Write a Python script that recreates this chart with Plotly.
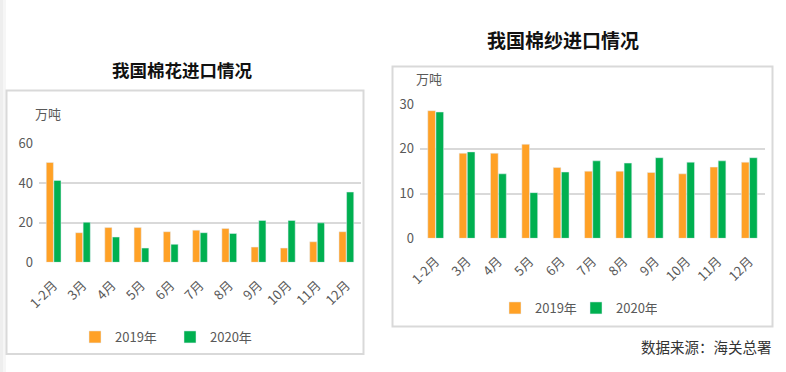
import plotly.graph_objects as go

W, H = 786, 372

months = ["1-2月", "3月", "4月", "5月", "6月", "7月", "8月", "9月", "10月", "11月", "12月"]

cotton_2019 = [50.6, 15.0, 17.6, 17.6, 15.5, 16.3, 17.1, 7.7, 7.2, 10.4, 15.5]
cotton_2020 = [41.5, 20.3, 12.8, 7.2, 9.1, 15.0, 14.6, 21.2, 21.2, 20.0, 35.6]

yarn_2019 = [28.5, 19.0, 19.0, 21.0, 15.8, 15.0, 15.0, 14.7, 14.4, 15.9, 17.0]
yarn_2020 = [28.2, 19.3, 14.4, 10.2, 14.8, 17.3, 16.8, 18.0, 17.0, 17.3, 18.0]

cotton_ticks = [0, 20, 40, 60]
yarn_ticks = [0, 10, 20, 30]

ORANGE = "#FFA126"
GREEN = "#00B050"
GRID = "#D9D9D9"
TXT = "#595959"
FONT = "Noto Sans CJK SC, Noto Sans, sans-serif"


def px(x):
    return x / W


def py(y):
    return 1 - y / H


fig = go.Figure()

fig.add_trace(go.Bar(x=months, y=cotton_2019, name="2019年", marker_color=ORANGE,
                     xaxis="x", yaxis="y", legend="legend"))
fig.add_trace(go.Bar(x=months, y=cotton_2020, name="2020年", marker_color=GREEN,
                     xaxis="x", yaxis="y", legend="legend"))
fig.add_trace(go.Bar(x=months, y=yarn_2019, name="2019年", marker_color=ORANGE,
                     xaxis="x2", yaxis="y2", legend="legend2"))
fig.add_trace(go.Bar(x=months, y=yarn_2020, name="2020年", marker_color=GREEN,
                     xaxis="x2", yaxis="y2", legend="legend2"))

xcommon = dict(type="category", tickangle=-45, showgrid=False, showline=False,
               ticks="", tickfont=dict(family=FONT, size=13, color=TXT),
               ticklabelstandoff=12, fixedrange=True, automargin=False)
ycommon = dict(showgrid=True, gridcolor=GRID, gridwidth=1.6, zeroline=False,
               showline=False, ticks="", tickfont=dict(family=FONT, size=13, color=TXT),
               ticklabelstandoff=5, fixedrange=True, automargin=False)

legcommon = dict(orientation="h", font=dict(family=FONT, size=13, color=TXT),
                 bgcolor="rgba(0,0,0,0)", xanchor="left", yanchor="middle",
                 entrywidthmode="pixels", itemclick=False)

fig.update_layout(
    width=W, height=H, autosize=False, margin=dict(l=0, r=0, t=0, b=0, pad=0),
    paper_bgcolor="white", plot_bgcolor="white",
    barmode="group", bargap=0.48, bargroupgap=0.06,
    xaxis=dict(xcommon, domain=[px(39), px(361)], anchor="y"),
    yaxis=dict(ycommon, domain=[py(262.3), py(143.3)], range=[0, 60.3],
               tickvals=cotton_ticks, anchor="x"),
    xaxis2=dict(xcommon, domain=[px(420), px(765)], anchor="y2"),
    yaxis2=dict(ycommon, domain=[py(238.3), py(103.3)], range=[0, 30.15],
                tickvals=yarn_ticks, anchor="x2"),
    legend=dict(legcommon, x=px(75), y=py(337), entrywidth=50),
    legend2=dict(legcommon, x=px(495), y=py(308), entrywidth=36),
    showlegend=True,
    font=dict(family=FONT),
)

shapes = [
    dict(type="rect", xref="paper", yref="paper", x0=0, x1=px(3), y0=0, y1=1,
         fillcolor="#EEEEEE", line=dict(width=0), layer="below"),
    dict(type="rect", xref="paper", yref="paper", x0=px(3), x1=px(6), y0=0, y1=1,
         fillcolor="#F6F6F6", line=dict(width=0), layer="below"),
    dict(type="rect", xref="paper", yref="paper", x0=px(6.5), x1=px(363.5),
         y0=py(354), y1=py(90.5), line=dict(color=GRID, width=2), layer="below"),
    dict(type="rect", xref="paper", yref="paper", x0=px(392.5), x1=px(772.5),
         y0=py(326.5), y1=py(66.5), line=dict(color=GRID, width=2), layer="below"),
]
fig.update_layout(shapes=shapes)

annotations = [
    dict(text="<b>我国棉花进口情况</b>", x=px(182), y=py(69), xref="paper", yref="paper",
         showarrow=False, xanchor="center", yanchor="middle",
         font=dict(family=FONT, size=17.5, color="#111111")),
    dict(text="<b>我国棉纱进口情况</b>", x=px(563), y=py(39), xref="paper", yref="paper",
         showarrow=False, xanchor="center", yanchor="middle",
         font=dict(family=FONT, size=19, color="#111111")),
    dict(text="万吨", x=px(33), y=py(114), xref="paper", yref="paper",
         showarrow=False, xanchor="left", yanchor="middle",
         font=dict(family=FONT, size=13, color=TXT)),
    dict(text="万吨", x=px(414), y=py(78), xref="paper", yref="paper",
         showarrow=False, xanchor="left", yanchor="middle",
         font=dict(family=FONT, size=13, color=TXT)),
    dict(text="数据来源：海关总署", x=px(774), y=py(346), xref="paper", yref="paper",
         showarrow=False, xanchor="right", yanchor="middle",
         font=dict(family=FONT, size=14.5, color="#333333")),
]
fig.update_layout(annotations=annotations)

fig.write_html(
    "out.html",
    config={"displayModeBar": False, "responsive": False},
    post_script="document.body.style.margin='0';document.body.style.overflow='hidden';",
)
